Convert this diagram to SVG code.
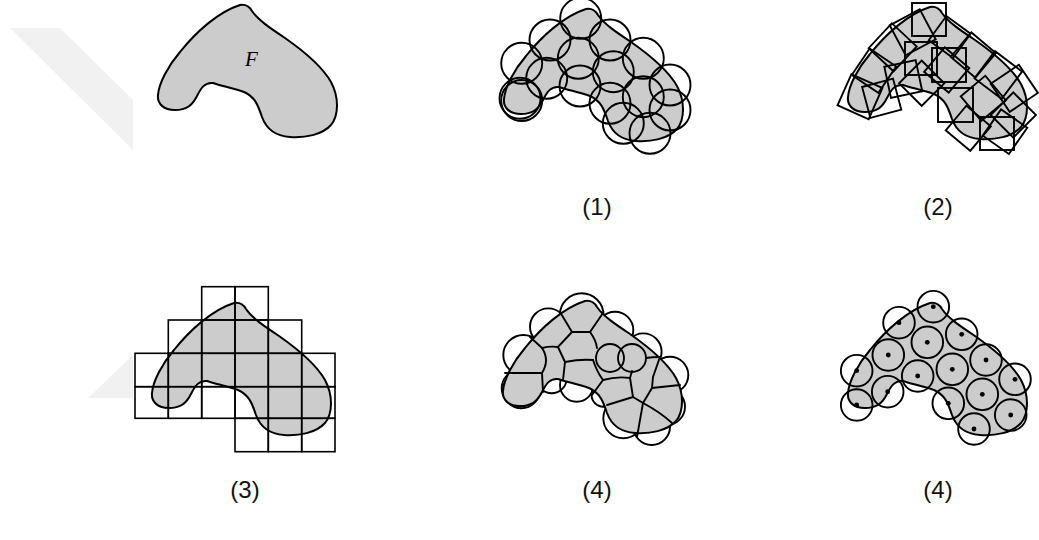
<svg xmlns="http://www.w3.org/2000/svg" xmlns:xlink="http://www.w3.org/1999/xlink" width="1039" height="540" viewBox="0 0 1039 540">
<style>
.shape{fill:#cccccc;stroke:#000;stroke-width:2;stroke-linejoin:round}
.ol{fill:none;stroke:#000;stroke-width:1.9}
.grid{fill:none;stroke:#000;stroke-width:1.6}
.edge{fill:none;stroke:#000;stroke-width:1.9;stroke-linecap:round}
.dot{fill:#000}
.wm{fill:#f1f1f1}
.lbl{font-family:"Liberation Sans",Arial,sans-serif;font-size:24px;fill:#111;text-anchor:middle}
.it{font-family:"Liberation Serif","Times New Roman",serif;font-style:italic;font-size:21px;fill:#000}
</style>
<defs>
<path id="shp" d="M240,5 C246,4 249,6 252,11 C258,20 270,28 285,38 C305,52 322,66 331,82 C339,97 339,115 331,125 C322,135 305,138 290,137 C275,136 266,128 262,117 C258,105 255,97 244,92 C232,88 222,86 213,83 C205,82 201,88 197,96 C192,106 186,110 175,110 C164,110 157,104 158,95 C159,83 168,66 180,52 C196,32 218,12 240,5 Z"/>
</defs>
<rect width="1039" height="540" fill="#fff"/>
<g id="watermark">
<polygon class="wm" points="10,28 60,28 133,100 133,150"/>
<polygon class="wm" points="88,398 133,355 133,398"/>
</g>
<g id="panel-F">
<use href="#shp" class="shape"/>
<text class="it" x="245" y="66">F</text>
</g>
<g id="panel-1">
<use href="#shp" class="shape" transform="translate(346,4)"/>
<g class="ol">
<circle cx="580.7" cy="18.3" r="20.5"/>
<circle cx="550" cy="40" r="20.5"/>
<circle cx="610" cy="40" r="20.5"/>
<circle cx="521.7" cy="63.3" r="20.5"/>
<circle cx="578.3" cy="58.3" r="20.5"/>
<circle cx="643.3" cy="58.3" r="20.5"/>
<circle cx="546.7" cy="78.3" r="20.5"/>
<circle cx="613.3" cy="71.7" r="20.5"/>
<circle cx="580" cy="86" r="20.5"/>
<circle cx="670" cy="85" r="20.5"/>
<circle cx="520" cy="98.3" r="20.5"/>
<circle cx="521.7" cy="100.5" r="20.5"/>
<circle cx="610" cy="103.3" r="20.5"/>
<circle cx="643.3" cy="96.7" r="20.5"/>
<circle cx="670" cy="110" r="20.5"/>
<circle cx="623.3" cy="123.3" r="20.5"/>
<circle cx="650" cy="133.3" r="20.5"/>
</g>
<text class="lbl" x="597" y="215">(1)</text>
</g>
<g id="panel-2">
<use href="#shp" class="shape" transform="translate(690,2)"/>
<g class="ol">
<rect x="912" y="3" width="34" height="33"/>
<rect x="905" y="42" width="32" height="33"/>
<rect x="932" y="48" width="34" height="34"/>
<rect x="938" y="88" width="35" height="34"/>
<rect x="980" y="117" width="34" height="33"/>
<rect x="-17" y="-17" width="34" height="34" transform="translate(912.7,32.3) rotate(-28)"/>
<rect x="-17" y="-17" width="34" height="34" transform="translate(892.7,47.3) rotate(-47)"/>
<rect x="-16" y="-16" width="32" height="32" transform="translate(874,70.7) rotate(-56)"/>
<rect x="-17" y="-17" width="34" height="34" transform="translate(860,96.7) rotate(-66)"/>
<rect x="-16" y="-16" width="32" height="32" transform="translate(881.7,98.3) rotate(-15)"/>
<rect x="-16" y="-16" width="32" height="32" transform="translate(903.3,79) rotate(-12)"/>
<rect x="-15" y="-15" width="30" height="30" transform="translate(949.7,37) rotate(36)"/>
<rect x="-16" y="-16" width="32" height="32" transform="translate(973.3,55) rotate(40)"/>
<rect x="-17" y="-17" width="34" height="34" transform="translate(998.3,75) rotate(37)"/>
<rect x="-17" y="-17" width="34" height="34" transform="translate(1014.3,88.3) rotate(56)"/>
<rect x="-16" y="-16" width="32" height="32" transform="translate(1013.3,115) rotate(45)"/>
<rect x="-16" y="-16" width="32" height="32" transform="translate(983.3,98.3) rotate(50)"/>
<rect x="-16" y="-16" width="32" height="32" transform="translate(968.3,128.3) rotate(40)"/>
<rect x="-16" y="-16" width="32" height="32" transform="translate(946.7,70) rotate(40)"/>
<rect x="-16" y="-16" width="32" height="32" transform="translate(921.7,83.3) rotate(45)"/>
<rect x="-16" y="-16" width="32" height="32" transform="translate(1005,131.7) rotate(35)"/>
</g>
<text class="lbl" x="938" y="215">(2)</text>
</g>
<g id="panel-3">
<use href="#shp" class="shape" transform="translate(-6,298)"/>
<g class="grid">
<rect x="201.7" y="286.7" width="33.3" height="33.3"/>
<rect x="235" y="286.7" width="33.3" height="33.3"/>
<rect x="168.3" y="320" width="33.4" height="33.3"/>
<rect x="201.7" y="320" width="33.3" height="33.3"/>
<rect x="235" y="320" width="33.3" height="33.3"/>
<rect x="268.3" y="320" width="33.4" height="33.3"/>
<rect x="135" y="353.3" width="33.3" height="33.4"/>
<rect x="168.3" y="353.3" width="33.4" height="33.4"/>
<rect x="201.7" y="353.3" width="33.3" height="33.4"/>
<rect x="235" y="353.3" width="33.3" height="33.4"/>
<rect x="268.3" y="353.3" width="33.4" height="33.4"/>
<rect x="301.7" y="353.3" width="33.3" height="33.4"/>
<rect x="135" y="386.7" width="33.3" height="31.6"/>
<rect x="168.3" y="386.7" width="33.4" height="31.6"/>
<rect x="201.7" y="386.7" width="33.3" height="31.6"/>
<rect x="235" y="386.7" width="33.3" height="31.6"/>
<rect x="268.3" y="386.7" width="33.4" height="31.6"/>
<rect x="301.7" y="386.7" width="33.3" height="31.6"/>
<rect x="235" y="418.3" width="33.3" height="33.4"/>
<rect x="268.3" y="418.3" width="33.4" height="33.4"/>
<rect x="301.7" y="418.3" width="33.3" height="33.4"/>
</g>
<text class="lbl" x="245" y="498">(3)</text>
</g>
<g id="panel-4">
<g class="ol">
<circle cx="581.7" cy="315.2" r="21.9"/>
<circle cx="548.3" cy="326.7" r="18.3"/>
<circle cx="523.3" cy="355" r="20"/>
<circle cx="520" cy="388.3" r="18.3"/>
<circle cx="521.5" cy="390" r="18.3"/>
<circle cx="551.7" cy="378.3" r="15"/>
<circle cx="576.7" cy="385" r="16.7"/>
<circle cx="603.3" cy="395" r="11.7"/>
<circle cx="623.3" cy="418.3" r="20"/>
<circle cx="651.7" cy="426.7" r="18.3"/>
<circle cx="666.7" cy="406.7" r="18.3"/>
<circle cx="670" cy="375" r="18.3"/>
<circle cx="643.3" cy="351.7" r="18.3"/>
<circle cx="615" cy="330" r="18.3"/>
</g>
<use href="#shp" class="shape" transform="translate(345,296)"/>
<g class="edge">
<path d="M560,312 L572,332 L590,332 L603,313"/>
<path d="M572,332 L558,347 Q550,346 542,348 L530,337"/>
<path d="M542,348 Q550,360 542,373 L505,373"/>
<path d="M542,373 L543,392"/>
<path d="M558,347 L565,362 L563,380"/>
<path d="M565,362 Q580,359 593,360"/>
<path d="M590,332 Q596,340 597,348"/>
<circle cx="610" cy="358" r="14"/>
<circle cx="632" cy="358" r="14"/>
<path d="M593,360 Q597,372 603,380 L592,395"/>
<path d="M603,380 Q617,376 630,378 L632,371"/>
<path d="M630,378 L633,397 L607,405"/>
<path d="M633,397 L643,403 L637,437"/>
<path d="M643,403 Q660,412 672,423"/>
<path d="M643,403 L652,388 L680,385"/>
<path d="M652,388 L653,377 L660,357"/>
<path d="M646,358 Q652,357 660,357"/>
</g>
<text class="lbl" x="597" y="498">(4)</text>
</g>
<g id="panel-5">
<use href="#shp" class="shape" transform="translate(690,298)"/>
<g class="ol">
<circle cx="933.3" cy="306.7" r="15.8"/>
<circle cx="899" cy="322.7" r="15.8"/>
<circle cx="927.3" cy="342.3" r="15.8"/>
<circle cx="961.7" cy="334.3" r="15.8"/>
<circle cx="888.3" cy="355" r="15.8"/>
<circle cx="856.7" cy="370.7" r="15.8"/>
<circle cx="917.7" cy="376" r="15.8"/>
<circle cx="952.3" cy="369.3" r="15.8"/>
<circle cx="986" cy="360" r="15.8"/>
<circle cx="1015" cy="379.3" r="15.8"/>
<circle cx="856.7" cy="405" r="15.8"/>
<circle cx="887.7" cy="391.7" r="15.8"/>
<circle cx="948.3" cy="403.3" r="15.8"/>
<circle cx="982.3" cy="394.3" r="15.8"/>
<circle cx="1010.7" cy="415" r="15.8"/>
<circle cx="974" cy="429" r="15.8"/>
</g>
<g class="dot">
<circle cx="933.3" cy="306.7" r="2.4"/>
<circle cx="899" cy="322.7" r="2.4"/>
<circle cx="927.3" cy="342.3" r="2.4"/>
<circle cx="961.7" cy="334.3" r="2.4"/>
<circle cx="888.3" cy="355" r="2.4"/>
<circle cx="856.7" cy="370.7" r="2.4"/>
<circle cx="917.7" cy="376" r="2.4"/>
<circle cx="952.3" cy="369.3" r="2.4"/>
<circle cx="986" cy="360" r="2.4"/>
<circle cx="1015" cy="379.3" r="2.4"/>
<circle cx="856.7" cy="405" r="2.4"/>
<circle cx="887.7" cy="391.7" r="2.4"/>
<circle cx="948.3" cy="403.3" r="2.4"/>
<circle cx="982.3" cy="394.3" r="2.4"/>
<circle cx="1010.7" cy="415" r="2.4"/>
<circle cx="974" cy="429" r="2.4"/>
</g>
<text class="lbl" x="938" y="498">(4)</text>
</g>
</svg>
